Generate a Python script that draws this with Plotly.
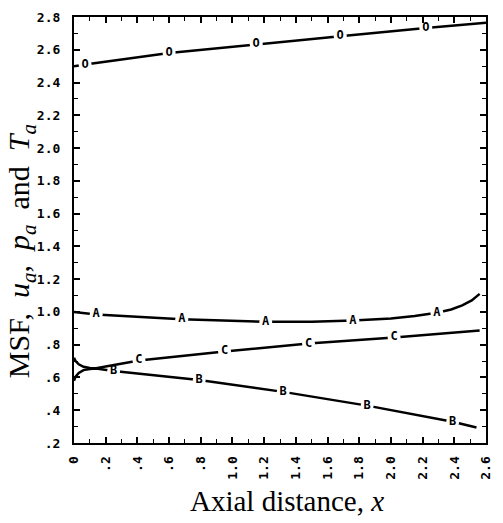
import plotly.graph_objects as go

# ---- data ----
x_O = [0.0, 0.07, 0.60, 1.15, 1.68, 2.22, 2.60]
y_O = [2.500, 2.510, 2.580, 2.634, 2.683, 2.733, 2.765]
mx_O = [0.07, 0.60, 1.15, 1.68, 2.22]
my_O = [2.510, 2.580, 2.634, 2.683, 2.733]

x_A = [0.0, 0.14, 0.68, 1.21, 1.50, 1.76, 2.00, 2.15, 2.29, 2.38, 2.45, 2.51, 2.56]
y_A = [1.000, 0.985, 0.955, 0.940, 0.940, 0.947, 0.960, 0.975, 0.995, 1.015, 1.040, 1.070, 1.110]
mx_A = [0.14, 0.68, 1.21, 1.76, 2.29]
my_A = [0.985, 0.955, 0.940, 0.947, 0.995]

x_C = [0.0, 0.01, 0.03, 0.06, 0.10, 0.14, 0.20, 0.41, 0.95, 1.48, 2.02, 2.56]
y_C = [0.720, 0.700, 0.680, 0.665, 0.658, 0.656, 0.667, 0.704, 0.759, 0.807, 0.844, 0.886]
mx_C = [0.41, 0.95, 1.48, 2.02]
my_C = [0.704, 0.759, 0.807, 0.844]

x_B = [0.0, 0.01, 0.03, 0.06, 0.10, 0.14, 0.25, 0.79, 1.32, 1.85, 2.39, 2.54]
y_B = [0.580, 0.605, 0.628, 0.645, 0.652, 0.654, 0.640, 0.585, 0.512, 0.428, 0.330, 0.295]
mx_B = [0.25, 0.79, 1.32, 1.85, 2.39]
my_B = [0.640, 0.585, 0.512, 0.428, 0.330]

y_tickvals = [0.2, 0.4, 0.6, 0.8, 1.0, 1.2, 1.4, 1.6, 1.8, 2.0, 2.2, 2.4, 2.6, 2.8]
y_ticktext = [".2", ".4", ".6", ".8", "1.0", "1.2", "1.4", "1.6", "1.8", "2.0", "2.2", "2.4", "2.6", "2.8"]
x_tickvals = [0.0, 0.2, 0.4, 0.6, 0.8, 1.0, 1.2, 1.4, 1.6, 1.8, 2.0, 2.2, 2.4, 2.6]
x_ticktext = ["0", ".2", ".4", ".6", ".8", "1.0", "1.2", "1.4", "1.6", "1.8", "2.0", "2.2", "2.4", "2.6"]

curves = [
    ("O", x_O, y_O, mx_O, my_O),
    ("A", x_A, y_A, mx_A, my_A),
    ("B", x_B, y_B, mx_B, my_B),
    ("C", x_C, y_C, mx_C, my_C),
]

fig = go.Figure()
for name, xs, ys, mxs, mys in curves:
    fig.add_trace(go.Scatter(x=xs, y=ys, mode="lines", line=dict(color="black", width=2.5),
                             hoverinfo="skip", showlegend=False))
    fig.add_trace(go.Scatter(x=mxs, y=mys, mode="markers+text", text=[name] * len(mxs),
                             textposition="middle center",
                             textfont=dict(family="DejaVu Sans Mono", size=12, color="black", weight="bold"),
                             marker=dict(symbol="circle", size=13, color="white", line=dict(width=0)),
                             hoverinfo="skip", showlegend=False))

tickfont = dict(family="DejaVu Sans Mono", size=13, color="black", weight="bold")

fig.update_xaxes(range=[0, 2.6], tickvals=x_tickvals, ticktext=x_ticktext, tickangle=-90,
                 ticks="inside", ticklen=6, tickwidth=1.5, tickcolor="black",
                 minor=dict(dtick=0.1, tick0=0, ticks="inside", ticklen=4, tickwidth=1.2, tickcolor="black"),
                 showline=True, linewidth=2.2, linecolor="black", mirror="allticks",
                 showgrid=False, zeroline=False, tickfont=tickfont, ticklabelstandoff=6)
fig.update_yaxes(range=[0.2, 2.8], tickvals=y_tickvals, ticktext=y_ticktext,
                 ticks="inside", ticklen=6, tickwidth=1.5, tickcolor="black",
                 minor=dict(dtick=0.1, tick0=0.2, ticks="inside", ticklen=4, tickwidth=1.2, tickcolor="black"),
                 showline=True, linewidth=2.2, linecolor="black", mirror="allticks",
                 showgrid=False, zeroline=False, tickfont=tickfont, ticklabelstandoff=9)

fig.add_annotation(text="MSF,\u2002<i>u<sub>a</sub></i>,\u2002<i>p<sub>a</sub></i>\u2002and\u2002<i>T<sub>a</sub></i>",
                   xref="paper", yref="paper", x=-0.128, y=0.451, textangle=-90, showarrow=False,
                   xanchor="center", yanchor="middle",
                   font=dict(family="Liberation Serif", size=30, color="black"))
fig.add_annotation(text="Axial distance, <i>x</i>",
                   xref="paper", yref="paper", x=0.516, y=-0.1355, showarrow=False,
                   xanchor="center", yanchor="middle",
                   font=dict(family="Liberation Serif", size=29, color="black"))

fig.update_layout(width=503, height=523, margin=dict(l=74, r=10, t=15, b=80),
                  plot_bgcolor="white", paper_bgcolor="white")

fig.write_html("out.html")
